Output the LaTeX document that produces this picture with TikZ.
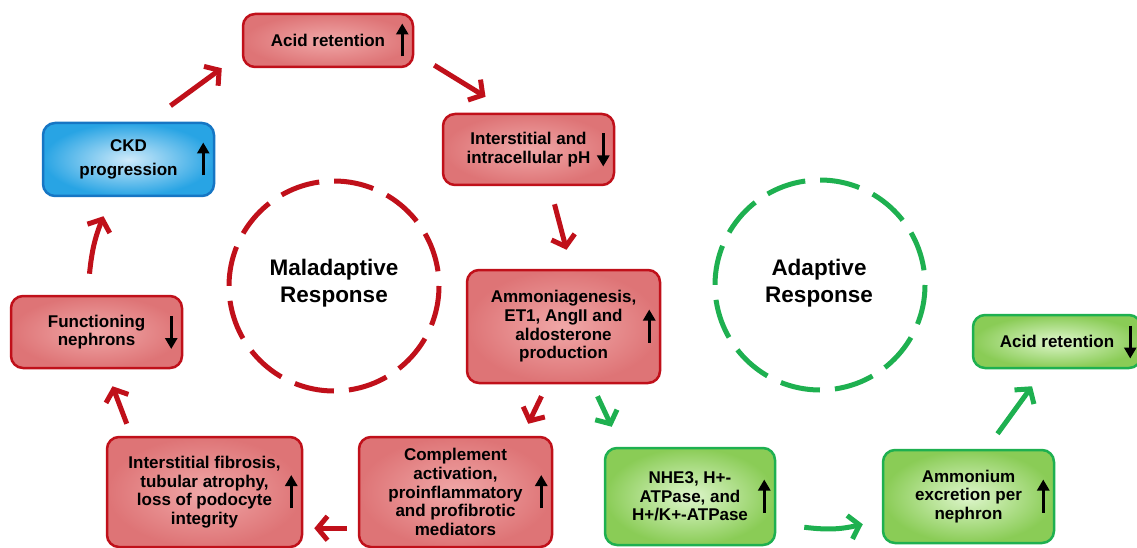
\documentclass[tikz,border=0pt]{standalone}
\usepackage{fontspec}
\setmainfont{Liberation Sans}
\usetikzlibrary{arrows.meta, calc}

\definecolor{malred}{RGB}{192,16,26}
\definecolor{redin}{RGB}{240,168,168}
\definecolor{redout}{RGB}{222,116,118}
\definecolor{adgreen}{RGB}{30,176,80}
\definecolor{greenin}{RGB}{222,246,204}
\definecolor{greenout}{RGB}{138,204,86}
\definecolor{ckdline}{RGB}{22,118,196}
\definecolor{bluein}{RGB}{206,234,250}
\definecolor{blueout}{RGB}{40,164,228}

\newcommand{\uparr}[1]{\draw[level] ($(#1.east)+(-12,16)$) -- ($(#1.east)+(-12,-17)$);}
\newcommand{\dnarr}[1]{\draw[level] ($(#1.east)+(-12,-16)$) -- ($(#1.east)+(-12,17)$);}

\begin{document}
\begin{tikzpicture}[x=1pt, y=-1pt,
		box/.style={rounded corners=12pt, line width=2.5pt, align=center,
			font=\fontsize{17}{18.6}\selectfont\bfseries, inner sep=0pt},
		redbox/.style={box, draw=malred, shading=radial, inner color=redin, outer color=redout},
		greenbox/.style={box, draw=adgreen, shading=radial, inner color=greenin, outer color=greenout},
		bluebox/.style={box, draw=ckdline, shading=radial, inner color=bluein, outer color=blueout},
		level/.style={line width=3.5pt, -{Triangle[length=11pt, width=12pt]}},
		redarr/.style={malred, line width=5pt, -{Straight Barb[length=10pt, width=24pt]}},
		greenarr/.style={adgreen, line width=5pt, -{Straight Barb[length=10pt, width=24pt]}},
		ring/.style={line width=5pt, dash pattern=on 40pt off 15pt},
		resp/.style={align=center, font=\fontsize{22.5}{26.5}\selectfont\bfseries}]
	\useasboundingbox (0,0) rectangle (1137,548);

	\node[redbox, minimum width=170, minimum height=53] (acid) at (328,40.5) {Acid retention};
	\node[redbox, minimum width=171, minimum height=71] (ph) at (528.5,149.5) {Interstitial and\\intracellular pH};
	\node[redbox, minimum width=193, minimum height=113] (ammon) at (563.5,326.5) {Ammoniagenesis,\\ET1, AngII and\\aldosterone\\production};
	\node[redbox, minimum width=193, minimum height=110] (comp) at (455.5,492) {Complement\\activation,\\proinflammatory\\and profibrotic\\mediators};
	\node[redbox, minimum width=195, minimum height=110] (fib) at (204.5,492) {Interstitial fibrosis,\\tubular atrophy,\\loss of podocyte\\integrity};
	\node[redbox, minimum width=171, minimum height=72] (func) at (96.5,332) {Functioning\\nephrons};
	\node[bluebox, minimum width=171, minimum height=73] (ckd) at (128.5,159.5) {CKD\\[6pt]progression};
	\node[greenbox, minimum width=170, minimum height=97] (nhe) at (690,496.5) {NHE3, H+-\\ATPase, and\\H+/K+-ATPase};
	\node[greenbox, minimum width=171, minimum height=93] (amm) at (968.5,496.5) {Ammonium\\excretion per\\nephron};
	\node[greenbox, minimum width=168, minimum height=53] (acidg) at (1057,341.5) {Acid retention};

	\uparr{acid}
	\dnarr{ph}
	\uparr{ammon}
	\uparr{comp}
	\uparr{fib}
	\dnarr{func}
	\uparr{ckd}
	\uparr{nhe}
	\uparr{amm}
	\dnarr{acidg}

	\draw[malred, ring] (334,286) circle (105);
	\draw[adgreen, ring] (820,285) circle (105);
	\node[resp] (mal) at (334,283) {Maladaptive\\Response};
	\node[resp] (ad) at (819,283) {Adaptive\\Response};

	\draw[redarr] ($(ckd.north)+(42,-16)$) -- ($(acid.south west)+(-20,0)$);
	\draw[redarr] ($(acid.south east)+(20,-3)$) -- ($(ph.north)+(-43,-16)$);
	\draw[redarr] ($(ph.south)+(26,18)$) -- ($(ammon.north)+(3,-19)$);
	\draw[redarr] ($(ammon.south)+(-22,12)$) -- ($(comp.north east)+(-25,-12)$);
	\draw[redarr] ($(comp.south west)+(-11,-20)$) -- ($(fib.south east)+(11,-20)$);
	\draw[redarr] ($(fib.north west)+(21,-12)$) -- ($(func.south)+(16,17)$);
	\draw[redarr] ($(func.north)+(-7,-21)$) to[bend left=8] ($(ckd.south)+(-25,19)$);
	\draw[greenarr] ($(ammon.south)+(34,12)$) -- ($(nhe.north west)+(8,-20)$);
	\draw[greenarr] ($(nhe.south east)+(28,-19)$) to[bend right=10] ($(amm.south west)+(-19,-20)$);
	\draw[greenarr] ($(amm.north)+(29,-15)$) -- ($(acidg.south)+(-25,17)$);
\end{tikzpicture}
\end{document}
